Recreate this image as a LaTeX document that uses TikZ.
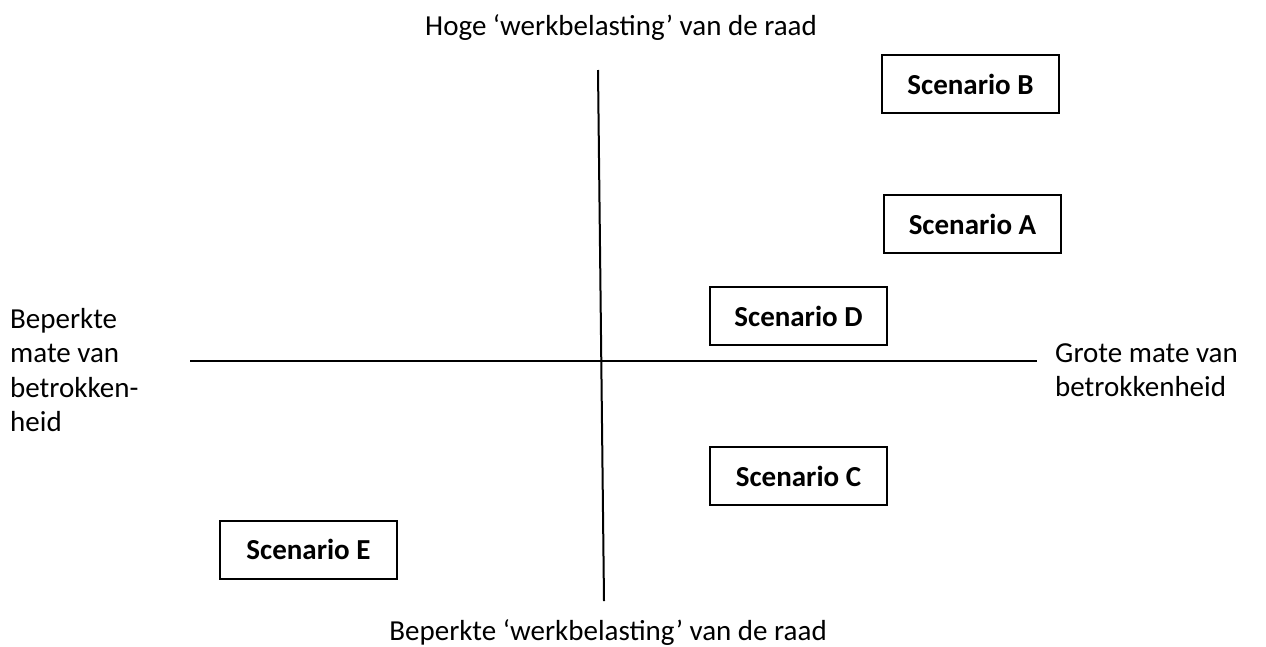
\documentclass[tikz,border=0pt]{standalone}
\usepackage{fontspec}
\setmainfont{Carlito}
\begin{document}
\begin{tikzpicture}[x=1pt,y=-1pt,
  scen/.style={draw=black,line width=2pt,minimum width=177pt,minimum height=58pt,inner sep=0pt,font=\fontsize{29}{34}\selectfont\bfseries},
  lbl/.style={inner sep=0pt,font=\fontsize{29}{34.5}\selectfont},
  axis/.style={line width=2pt}]
\useasboundingbox (0,0) rectangle (1266,646);
\node[scen] (B) at (970.5,84) {Scenario B};
\node[scen] (A) at (972.5,224) {Scenario A};
\node[scen] (D) at (798.5,316) {Scenario D};
\node[scen] (C) at (798.5,476) {Scenario C};
\node[scen] (E) at (308.5,549.5) {Scenario E};
\coordinate (vt) at (598,70);
\coordinate (vb) at (604,601);
\coordinate (hl) at (190,361);
\coordinate (hr) at (1037,361);
\draw[axis] (vt) -- (vb);
\draw[axis] (hl) -- (hr);
\node[lbl] (top) at (621,28) {Hoge ‘werkbelasting’ van de raad};
\node[lbl] (bot) at (608,633) {Beperkte ‘werkbelasting’ van de raad};
\node[lbl,align=left,anchor=west] (left) at (10,370) {Beperkte\\mate van\\betrokken-\\heid};
\node[lbl,align=left,anchor=west] (right) at (1055,370) {Grote mate van\\betrokkenheid};
\end{tikzpicture}
\end{document}
